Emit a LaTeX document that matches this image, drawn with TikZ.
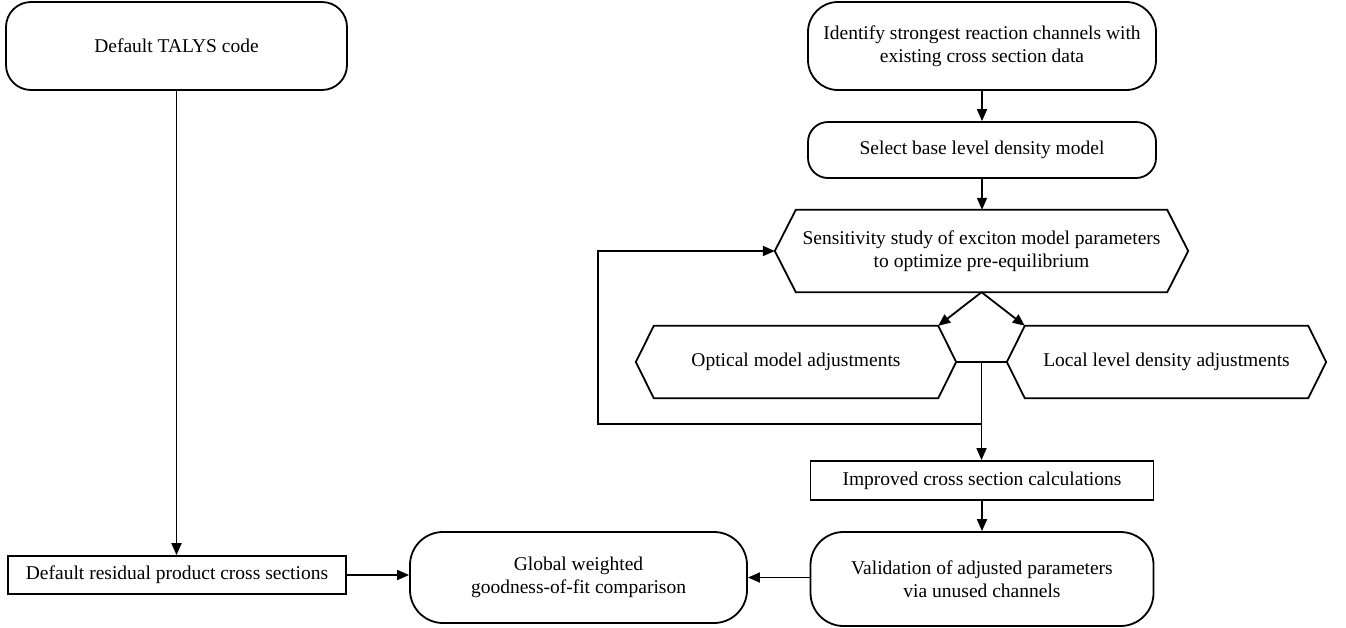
\documentclass[tikz,border=0pt]{standalone}
\usepackage{fontspec}
\setmainfont{Liberation Serif}
\usetikzlibrary{arrows.meta}
\begin{document}
\begin{tikzpicture}[x=1pt,y=-1pt,
  every node/.style={font=\fontsize{19.5}{23}\selectfont, align=center, inner sep=0pt},
  term/.style={draw, line width=1.8pt, rounded corners=#1},
  plainbox/.style={draw, line width=1.8pt},
  hexbody/.style={draw=none},
  conn/.style={line width=1.8pt},
  arr/.style={conn, -{Triangle[length=12pt,width=10pt]}}
]
\useasboundingbox (0,0) rectangle (1346,627);
% left column
\node[term=25pt, minimum width=341pt, minimum height=88pt] (talys) at (176.5,46) {Default TALYS code};
\node[plainbox, minimum width=338pt, minimum height=38pt] (defres) at (177,575) {Default residual product cross sections};
\node[term=33pt, minimum width=337pt, minimum height=91pt] (global) at (578.5,577.5) {Global weighted\\goodness-of-fit comparison};
% right column
\node[term=30pt, minimum width=348pt, minimum height=88pt] (ident) at (982,46) {Identify strongest reaction channels with\\existing cross section data};
\node[term=20pt, minimum width=348pt, minimum height=56pt] (select) at (982,150) {Select base level density model};
\node[hexbody, minimum width=413pt, minimum height=82pt] (sens) at (981.5,251) {Sensitivity study of exciton model parameters\\to optimize pre-equilibrium};
\node[hexbody, minimum width=320pt, minimum height=72pt] (opt) at (796,362) {Optical model adjustments};
\node[hexbody, minimum width=319pt, minimum height=72pt] (local) at (1166.5,362) {Local level density adjustments};
\node[plainbox, minimum width=343pt, minimum height=39pt] (improved) at (982,480.5) {Improved cross section calculations};
\node[term=33pt, minimum width=343pt, minimum height=94pt] (valid) at (982,579) {Validation of adjusted parameters\\via unused channels};
% hexagon outlines
\draw[conn, line join=miter] ([xshift=21pt]sens.north west) -- ([xshift=-21pt]sens.north east) -- (sens.east) -- ([xshift=-21pt]sens.south east) -- ([xshift=21pt]sens.south west) -- (sens.west) -- cycle;
\draw[conn, line join=miter] ([xshift=18pt]opt.north west) -- ([xshift=-18pt]opt.north east) -- (opt.east) -- ([xshift=-18pt]opt.south east) -- ([xshift=18pt]opt.south west) -- (opt.west) -- cycle;
\draw[conn, line join=miter] ([xshift=18pt]local.north west) -- ([xshift=-18pt]local.north east) -- (local.east) -- ([xshift=-18pt]local.south east) -- ([xshift=18pt]local.south west) -- (local.west) -- cycle;
% coordinates
\coordinate (junc) at (sens.south |- opt.east);
\coordinate (fb) at (981.5,424);
\coordinate (fbl) at (598,424);
\coordinate (fbu) at (598,251);
% connectors
\draw[arr] (talys.south) -- (talys.south |- defres.north);
\draw[arr] (defres.east) -- (defres.east -| global.west);
\draw[arr] (valid.west |- global.east) -- (global.east);
\draw[arr] (ident.south) -- (select.north);
\draw[arr] (select.south) -- (select.south |- sens.north);
\draw[arr] (sens.south) -- ([xshift=-18pt]opt.north east);
\draw[arr] (sens.south) -- ([xshift=18pt]local.north west);
\draw[conn] (opt.east) -- (local.west);
\draw[arr] (junc) -- (junc |- improved.north);
\draw[arr] (fb) -- (fbl) -- (fbu) -- (sens.west);
\draw[arr] (improved.south) -- (valid.north);
\end{tikzpicture}
\end{document}
